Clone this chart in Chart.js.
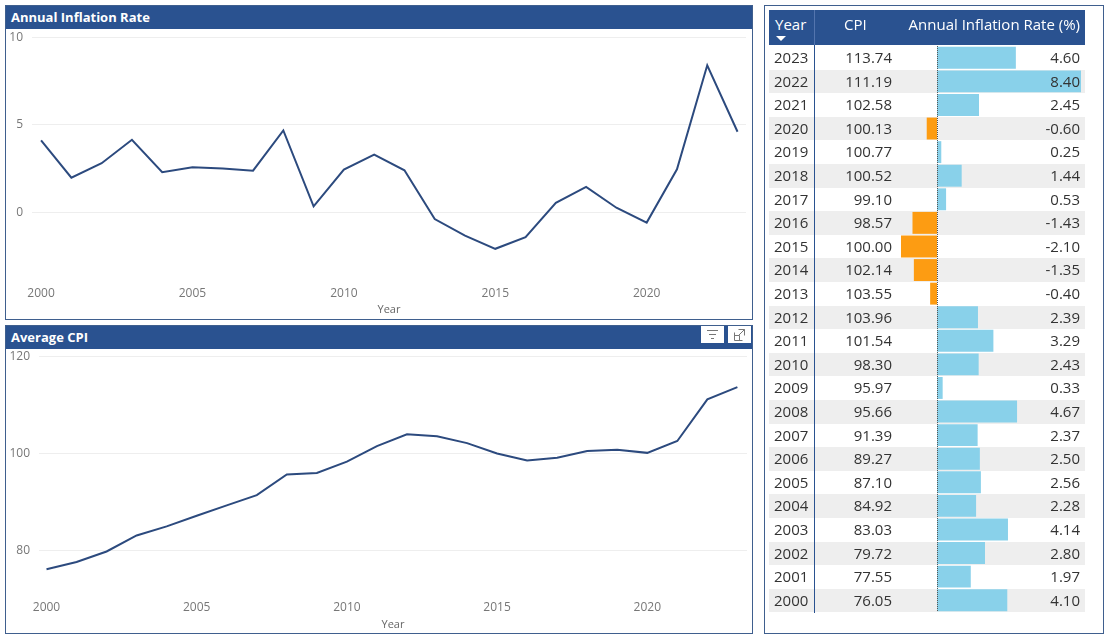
<!DOCTYPE html>
<html>
<head>
<meta charset="utf-8">
<script src="https://cdn.jsdelivr.net/npm/chart.js@4"></script>
<style>
  body { margin: 0; width: 1112px; height: 640px; background: #fff; position: relative; overflow: hidden;
         font-family: 'Segoe UI', 'Open Sans', sans-serif; }
  .panel { position: absolute; border: 1px solid #3F5F8E; box-sizing: border-box; background: #fff; }
  .bar { position: absolute; left: 0; top: 0; right: 0; height: 23px; background: #2A5290; color: #fff;
         font-weight: 700; font-size: 13px; line-height: 22px; padding-left: 5px; }
  .cw { position: absolute; left: 0; }
  .icon { position: absolute; top: 0; width: 23px; height: 17px; background: #fff; }
  .thead { position: absolute; left: 769px; top: 10px; width: 316px; height: 35px; background: #2A5290; color: #fff;
           font-size: 15px; }
  .thead span, .row span { position: absolute; white-space: nowrap; z-index: 2; }
  .row { position: absolute; left: 769px; width: 316px; height: 23.6px; font-size: 15px; color: #333;
         line-height: 23.6px; }
  .row.alt { background: #EEEEEE; }
  #rateWrap { position: absolute; left: 901px; top: 46px; width: 180px; height: 566px; z-index: 1; }
</style>
</head>
<body>
<div class="panel" style="left:5px;top:5px;width:748px;height:315px">
  <div class="bar">Annual Inflation Rate</div>
  <div class="cw" style="top:23px;width:746px;height:289px"><canvas id="inflationChart"></canvas></div>
</div>
<div class="panel" style="left:5px;top:325px;width:748px;height:309px">
  <div class="bar">Average CPI</div>
  <div class="icon" style="left:695px">
    <svg width="23" height="17"><g stroke="#777" stroke-width="1"><line x1="6" y1="4.5" x2="17" y2="4.5"/><line x1="8" y1="8.5" x2="15" y2="8.5"/><line x1="10" y1="12.5" x2="13" y2="12.5"/></g></svg>
  </div>
  <div class="icon" style="left:722px">
    <svg width="23" height="17"><g stroke="#777" stroke-width="1" fill="none"><path d="M6.5 6.5 V14.5 H14.5"/><path d="M6.5 9.5 H11.5 V14.5"/><path d="M10.5 3.5 H16.5 V9.5"/><path d="M16.5 3.5 L11 9"/></g></svg>
  </div>
  <div class="cw" style="top:23px;width:746px;height:283px"><canvas id="cpiChart"></canvas></div>
</div>
<div class="panel" style="left:764px;top:5px;width:340px;height:629px"></div>
<div class="thead">
  <span style="left:6px;top:4px">Year</span>
  <span style="left:7px;top:26px;width:0;height:0;border-left:5px solid transparent;border-right:5px solid transparent;border-top:5px solid #fff"></span>
  <span style="left:45px;top:0;width:1px;height:35px;background:#5475AE"></span>
  <span style="left:75px;top:4px">CPI</span>
  <span style="right:5px;top:4px">Annual Inflation Rate (%)</span>
</div>
<div id="rows"></div>
<div style="position:absolute;left:814px;top:45px;width:1px;height:568px;background:#2A5290;z-index:3"></div>
<div id="rateWrap"><canvas id="rateBars"></canvas></div>
<script>
const years = [2000, 2001, 2002, 2003, 2004, 2005, 2006, 2007, 2008, 2009, 2010, 2011,
  2012, 2013, 2014, 2015, 2016, 2017, 2018, 2019, 2020, 2021, 2022, 2023];
const cpiValues = [76.05, 77.55, 79.72, 83.03, 84.92, 87.10, 89.27, 91.39, 95.66, 95.97, 98.30, 101.54,
  103.96, 103.55, 102.14, 100.00, 98.57, 99.10, 100.52, 100.77, 100.13, 102.58, 111.19, 113.74];
const inflationRates = [4.10, 1.97, 2.80, 4.14, 2.28, 2.56, 2.50, 2.37, 4.67, 0.33, 2.43, 3.29,
  2.39, -0.40, -1.35, -2.10, -1.43, 0.53, 1.44, 0.25, -0.60, 2.45, 8.40, 4.60];
const yearTicks = [2000, 2005, 2010, 2015, 2020];
const inflationTicks = [0, 5, 10];
const cpiTicks = [80, 100, 120];

const lineColor = '#2C4A7E';
const fontFamily = "'Segoe UI', 'Open Sans', sans-serif";

// table rows, newest year first
const rowYears = [...years].reverse();
const rowCpi = [...cpiValues].reverse();
const rowRates = [...inflationRates].reverse();

const rowsEl = document.getElementById('rows');
rowYears.forEach((year, i) => {
  const row = document.createElement('div');
  row.className = i % 2 ? 'row alt' : 'row';
  row.style.top = `${46 + i * 23.6}px`;
  row.innerHTML = `<span style="left:5px">${year}</span>`
    + `<span style="right:193px">${rowCpi[i].toFixed(2)}</span>`
    + `<span style="right:5px">${rowRates[i].toFixed(2)}</span>`;
  rowsEl.appendChild(row);
});

// keep label overflow from pushing the plot area around
const noEdgePadding = (axis) => {
  axis.paddingTop = 0;
  axis.paddingBottom = 0;
  axis.paddingLeft = 0;
  axis.paddingRight = 0;
};

const createLineChart = (id, values, opts) => new Chart(document.getElementById(id), {
  type: 'line',
  data: {
    datasets: [{
      data: years.map((year, i) => ({ x: year, y: values[i] })),
      borderColor: lineColor,
      borderWidth: 2,
      pointRadius: 0,
      tension: 0,
    }],
  },
  options: {
    responsive: true,
    maintainAspectRatio: false,
    animation: false,
    layout: { padding: { top: opts.padTop, right: opts.padRight } },
    plugins: { legend: { display: false }, tooltip: { enabled: false } },
    scales: {
      x: {
        type: 'linear',
        min: opts.xMin,
        max: opts.xMax,
        grid: { display: false, drawTicks: false },
        border: { display: false },
        afterBuildTicks: (axis) => { axis.ticks = yearTicks.map((value) => ({ value })); },
        afterFit: (axis) => { axis.height = 36; noEdgePadding(axis); },
        ticks: { color: '#777', padding: 4, font: { family: fontFamily, size: 12 }, callback: (v) => String(v) },
        title: { display: true, text: 'Year', color: '#666', padding: { top: 0, bottom: opts.titlePad },
          font: { family: fontFamily, size: 11 } },
      },
      y: {
        min: opts.yMin,
        max: opts.yMax,
        grid: { color: '#EEEEEE', drawTicks: false },
        border: { display: false },
        afterBuildTicks: (axis) => { axis.ticks = opts.yTicks.map((value) => ({ value })); },
        afterFit: (axis) => { axis.width = opts.yWidth; noEdgePadding(axis); },
        ticks: { color: '#777', padding: 9, font: { family: fontFamily, size: 12 } },
      },
    },
  },
});

createLineChart('inflationChart', inflationRates, {
  xMin: 1999.7, xMax: 2023.28, yMin: -4, yMax: 10.25, yTicks: inflationTicks,
  yWidth: 26, padTop: 4, padRight: 6, titlePad: 2,
});

createLineChart('cpiChart', cpiValues, {
  xMin: 1999.75, xMax: 2023.32, yMin: 70.5, yMax: 120.8, yTicks: cpiTicks,
  yWidth: 33, padTop: 4, padRight: 5, titlePad: 1,
});

const zeroLine = {
  id: 'zeroLine',
  afterDatasetsDraw: (chart) => {
    const { ctx, chartArea, scales } = chart;
    const x = Math.round(scales.x.getPixelForValue(0)) + 0.5;
    ctx.save();
    ctx.strokeStyle = '#555';
    ctx.lineWidth = 1;
    ctx.setLineDash([1, 1]);
    ctx.beginPath();
    ctx.moveTo(x, chartArea.top);
    ctx.lineTo(x, chartArea.bottom);
    ctx.stroke();
    ctx.restore();
  },
};

new Chart(document.getElementById('rateBars'), {
  type: 'bar',
  data: {
    labels: rowYears,
    datasets: [{
      data: rowRates,
      backgroundColor: rowRates.map((v) => (v < 0 ? '#FD9C12' : '#89D1EA')),
      barPercentage: 0.93,
      categoryPercentage: 1,
    }],
  },
  options: {
    indexAxis: 'y',
    responsive: true,
    maintainAspectRatio: false,
    animation: false,
    plugins: { legend: { display: false }, tooltip: { enabled: false } },
    scales: {
      x: { display: false, min: -2.1, max: 8.4 },
      y: { display: false },
    },
  },
  plugins: [zeroLine],
});
</script>
</body>
</html>
